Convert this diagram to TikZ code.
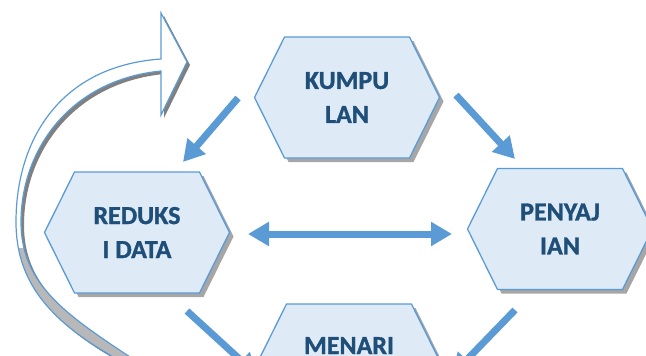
\documentclass[tikz,border=0pt]{standalone}
\usepackage{fontspec}
\setmainfont{Carlito}[BoldFont={Carlito Bold}, BoldFeatures={FakeBold=1.2}]
\usetikzlibrary{arrows.meta}
\definecolor{hexblue}{HTML}{5B9BD5}
\definecolor{hexfill}{HTML}{DEEBF7}
\definecolor{hextext}{HTML}{1F4E79}
\definecolor{shadowgray}{HTML}{A6A6A6}
\definecolor{darkshadow}{HTML}{808080}
\tikzset{
  hexlabel/.style={text=hextext, font=\fontsize{26}{34}\selectfont\bfseries, align=center, inner sep=0pt},
  bigarrow/.style={draw=hexblue, line width=7pt, -{Triangle[length=21pt,width=23pt]}},
  bigdouble/.style={draw=hexblue, line width=7pt, {Triangle[length=21pt,width=23pt]}-{Triangle[length=21pt,width=23pt]}},
  hexbody/.style={fill=hexfill, draw=hexblue, line width=1.3pt, line join=miter},
}
\newcommand\hexnode[3]{% name, cx, cy
  \begin{scope}[shift={(#2,#3)}]
    \fill[shadowgray] (-88.5,4) -- (-58.5,-56.5) -- (66.5,-56.5) -- (96.5,4) -- (66.5,64.5) -- (-58.5,64.5) -- cycle;
    \path[hexbody] (-92.5,0) -- (-62.5,-60.5) -- (62.5,-60.5) -- (92.5,0) -- (62.5,60.5) -- (-62.5,60.5) -- cycle;
    \coordinate (#1) at (0,0);
  \end{scope}}
\def\curvepath{(161,59) -- (161,13) -- (187,62) -- (161,115) -- (161,71)
  .. controls (70,80) and (21,150) .. (21,222)
  .. controls (21,282) and (62,312) .. (127,355) -- (160,376) -- (140,380) -- (110,355)
  .. controls (50,320) and (16,282) .. (16,222)
  .. controls (16,140) and (60,66) .. (161,59) -- cycle}
\begin{document}
\begin{tikzpicture}[x=1pt,y=-1pt]
\useasboundingbox (0,0) rectangle (646,356);
\clip (0,0) rectangle (646,356);
% curved return arrow
\fill[darkshadow, shift={(3,3)}] \curvepath;
\fill[white] \curvepath;
\begin{scope}
  \clip (0,248) rectangle (300,400);
  \fill[shadowgray!80] \curvepath;
\end{scope}
\draw[hexblue, line width=1.2pt, line join=miter] \curvepath;
% hexagons
\hexnode{kump}{347}{97.5}
\hexnode{red}{137}{232.5}
\hexnode{peny}{560}{229}
\hexnode{men}{349}{364.5}
\node[hexlabel] (kumptxt) at (kump) {KUMPU\\LAN};
\node[hexlabel] (redtxt) at (red) {REDUKS\\I DATA};
\node[hexlabel] (penytxt) at (peny) {PENYAJ\\IAN};
\node[hexlabel, anchor=base] (mentxt) at (349,354) {MENARI};
% arrows
\coordinate (a1) at (238,98);  \coordinate (a2) at (183,162);
\coordinate (b1) at (456,95);  \coordinate (b2) at (515,159);
\coordinate (c1) at (248,234); \coordinate (c2) at (452,234);
\coordinate (d1) at (187,311); \coordinate (d2) at (257,375);
\coordinate (e1) at (515,310); \coordinate (e2) at (452,375);
\draw[bigarrow] (a1) -- (a2);
\draw[bigarrow] (b1) -- (b2);
\draw[bigdouble] (c1) -- (c2);
\draw[bigarrow] (d1) -- (d2);
\draw[bigarrow] (e1) -- (e2);
\end{tikzpicture}
\end{document}
